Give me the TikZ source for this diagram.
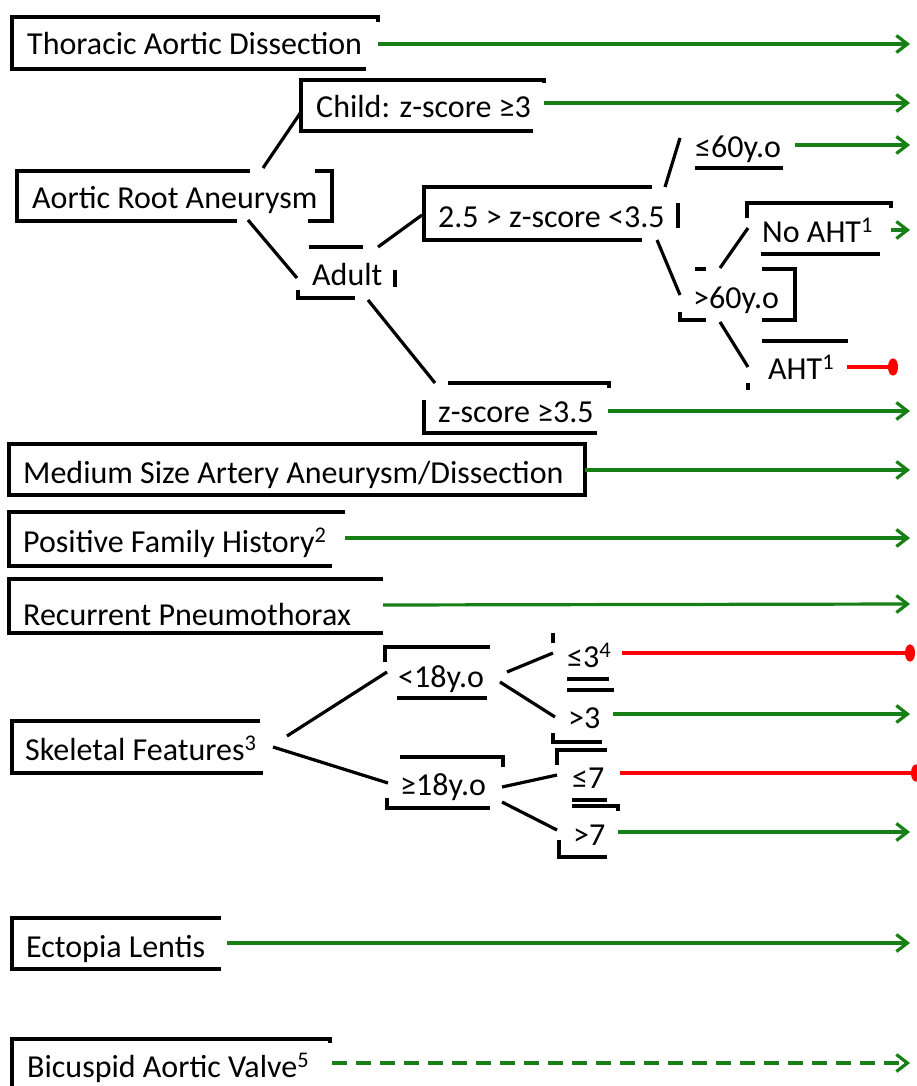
\documentclass[tikz,border=0pt]{standalone}
\usepackage{fontspec}
\setmainfont{Carlito}
\usetikzlibrary{arrows.meta}
\definecolor{garrow}{RGB}{22,128,22}
\definecolor{rline}{RGB}{255,0,0}
\begin{document}
\begin{tikzpicture}[x=1pt,y=-1pt,
  txt/.style={inner sep=0pt, anchor=base west, font=\fontsize{32}{38}\selectfont},
  frame/.style={line width=3.2pt, line join=miter},
  conn/.style={line width=3.2pt},
  greenarrow/.style={line width=3.2pt, draw=garrow, -{Straight Barb[length=11pt,width=17pt]}},
  redstop/.style={line width=3.2pt, draw=rline, -{Ellipse[length=10pt,width=17pt]}},
]
\useasboundingbox (0,0) rectangle (916,1086);

% ---------- texts ----------
\node[txt] (tad)   at (27,55)   {Thoracic Aortic Dissection};
\node[txt] (child) at (316,118) {Child: z-score ≥3};
\node[txt] (arn)   at (32,208)  {Aortic Root Aneurysm};
\node[txt] (adult) at (312,285) {Adult};
\node[txt] (mid)   at (438,227) {2.5 > z-score <3.5};
\node[txt] (le60)  at (695,158) {≤60y.o};
\node[txt] (gt60)  at (693,308) {>60y.o};
\node[txt] (noaht) at (762,242) {No AHT\textsuperscript{1}};
\node[txt] (aht)   at (768,379) {AHT\textsuperscript{1}};
\node[txt] (z35)   at (438,422) {z-score ≥3.5};
\node[txt] (med)   at (23,483)  {Medium Size Artery Aneurysm/Dissection};
\node[txt] (pfh)   at (23,552)  {Positive Family History\textsuperscript{2}};
\node[txt] (rp)    at (23,625)  {Recurrent Pneumothorax};
\node[txt] (skel)  at (25,760)  {Skeletal Features\textsuperscript{3}};
\node[txt] (lt18)  at (398,687) {<18y.o};
\node[txt] (ge18)  at (400,795) {≥18y.o};
\node[txt] (le3)   at (567,667) {≤3\textsuperscript{4}};
\node[txt] (gt3)   at (568,728) {>3};
\node[txt] (le7)   at (572,788) {≤7};
\node[txt] (gt7)   at (573,845) {>7};
\node[txt] (ect)   at (26,957)  {Ectopia Lentis};
\node[txt] (bav)   at (27,1077) {Bicuspid Aortic Valve\textsuperscript{5}};

% ---------- box fragments ----------
\draw[frame] (378,22) -- (378,17) -- (12,17) -- (12,69) -- (366,69);
\draw[frame] (544,83) -- (544,80) -- (301,80) -- (301,131) -- (533,131);
\draw[frame] (250,171) -- (17,171) -- (17,221) -- (237,221);
\draw[frame] (315,171) -- (332,171) -- (332,221) -- (308,221);
\draw[frame] (309,247) -- (363,247);
\draw[frame] (395,270) -- (395,287);
\draw[frame] (298,290) -- (298,298) -- (355,298);
\draw[frame] (652,187) -- (424,187) -- (424,240) -- (642,240);
\draw[frame] (678,203) -- (678,228);
\draw[frame] (695,168) -- (783,168);
\draw[frame] (695,269) -- (706,269);
\draw[frame] (762,269) -- (795,269) -- (795,320) -- (762,320);
\draw[frame] (680,312) -- (680,320) -- (706,320);
\draw[frame] (747,218) -- (747,203) -- (891,203) -- (891,208);
\draw[frame] (761,254) -- (880,254);
\draw[frame] (762,341) -- (848,341);
\draw[frame] (748,383) -- (748,390);
\draw[frame] (448,383) -- (609,383) -- (609,388);
\draw[frame] (424,400) -- (424,433) -- (597,433);
\draw[frame] (9,444) rectangle (585,495);
\draw[frame] (345,512) -- (9,512) -- (9,566) -- (332,566);
\draw[frame] (383,579) -- (9,579) -- (9,633) -- (383,633);
\draw[frame] (260,721) -- (12,721) -- (12,773) -- (263,773);
\draw[frame] (490,647) -- (385,647) -- (385,662);
\draw[frame] (397,698) -- (487,698);
\draw[frame] (400,757) -- (503,757) -- (503,767);
\draw[frame] (387,798) -- (387,808) -- (490,808);
\draw[frame] (553,633) -- (553,643);
\draw[frame] (567,679) -- (609,679);
\draw[frame] (567,690) -- (614,690);
\draw[frame] (553,733) -- (553,742) -- (602,742);
\draw[frame] (607,750) -- (557,750) -- (557,765);
\draw[frame] (572,800) -- (607,800);
\draw[frame] (572,806) -- (618,806) -- (618,811);
\draw[frame] (559,840) -- (559,857) -- (607,857);
\draw[frame] (221,918) -- (12,918) -- (12,969) -- (221,969);
\draw[frame] (330,1043) -- (330,1039) -- (12,1039) -- (12,1090);

% ---------- connector end points ----------
\coordinate (arn-up) at (263,168);   \coordinate (child-in) at (301,112);
\coordinate (arn-dn) at (248,220);   \coordinate (adult-in) at (297,278);
\coordinate (adult-up) at (378,247); \coordinate (mid-in) at (422,215);
\coordinate (adult-dn) at (368,300); \coordinate (z35-in) at (435,383);
\coordinate (mid-up) at (665,187);   \coordinate (le60-in) at (680,138);
\coordinate (mid-dn) at (657,240);   \coordinate (gt60-in) at (680,295);
\coordinate (gt60-up) at (720,268);  \coordinate (noaht-in) at (748,228);
\coordinate (gt60-dn) at (720,322);  \coordinate (aht-in) at (748,367);
\coordinate (skel-up) at (287,736);  \coordinate (lt18-in) at (387,672);
\coordinate (skel-dn) at (273,747);  \coordinate (ge18-in) at (388,783);
\coordinate (lt18-up) at (507,672);  \coordinate (le3-in) at (553,653);
\coordinate (lt18-dn) at (500,682);  \coordinate (gt3-in) at (555,717);
\coordinate (ge18-up) at (502,787);  \coordinate (le7-in) at (557,775);
\coordinate (ge18-dn) at (502,802);  \coordinate (gt7-in) at (557,830);

\draw[conn] (arn-up) -- (child-in);
\draw[conn] (arn-dn) -- (adult-in);
\draw[conn] (adult-up) -- (mid-in);
\draw[conn] (adult-dn) -- (z35-in);
\draw[conn] (mid-up) -- (le60-in);
\draw[conn] (mid-dn) -- (gt60-in);
\draw[conn] (gt60-up) -- (noaht-in);
\draw[conn] (gt60-dn) -- (aht-in);
\draw[conn] (skel-up) -- (lt18-in);
\draw[conn] (skel-dn) -- (ge18-in);
\draw[conn] (lt18-up) -- (le3-in);
\draw[conn] (lt18-dn) -- (gt3-in);
\draw[conn] (ge18-up) -- (le7-in);
\draw[conn] (ge18-dn) -- (gt7-in);

% ---------- outcome arrows ----------
\coordinate (tad-o) at (378,44);    \coordinate (tad-e) at (910,44);
\coordinate (child-o) at (544,103); \coordinate (child-e) at (910,103);
\coordinate (le60-o) at (795,145);  \coordinate (le60-e) at (910,145);
\coordinate (noaht-o) at (891,230); \coordinate (noaht-e) at (910,230);
\coordinate (z35-o) at (608,411);   \coordinate (z35-e) at (910,411);
\coordinate (med-o) at (585,470);   \coordinate (med-e) at (910,470);
\coordinate (pfh-o) at (345,538);   \coordinate (pfh-e) at (910,538);
\coordinate (rp-o) at (383,605);    \coordinate (rp-e) at (910,604);
\coordinate (gt3-o) at (613,714);   \coordinate (gt3-e) at (910,714);
\coordinate (gt7-o) at (618,832);   \coordinate (gt7-e) at (910,832);
\coordinate (ect-o) at (227,943);   \coordinate (ect-e) at (910,943);
\coordinate (bav-o) at (332,1063);  \coordinate (bav-e) at (910,1063);
\coordinate (aht-o) at (847,367);   \coordinate (aht-e) at (898,367);
\coordinate (le3-o) at (622,653);   \coordinate (le3-e) at (915,653);
\coordinate (le7-o) at (620,773);   \coordinate (le7-e) at (921,773);

\draw[greenarrow] (tad-o) -- (tad-e);
\draw[greenarrow] (child-o) -- (child-e);
\draw[greenarrow] (le60-o) -- (le60-e);
\draw[greenarrow] (noaht-o) -- (noaht-e);
\draw[greenarrow] (z35-o) -- (z35-e);
\draw[greenarrow] (med-o) -- (med-e);
\draw[greenarrow] (pfh-o) -- (pfh-e);
\draw[greenarrow] (rp-o) -- (rp-e);
\draw[greenarrow] (gt3-o) -- (gt3-e);
\draw[greenarrow] (gt7-o) -- (gt7-e);
\draw[greenarrow] (ect-o) -- (ect-e);
\draw[greenarrow, dash pattern=on 15pt off 9pt] (bav-o) -- (bav-e);
\draw[redstop] (aht-o) -- (aht-e);
\draw[redstop] (le3-o) -- (le3-e);
\draw[redstop] (le7-o) -- (le7-e);
\end{tikzpicture}
\end{document}
